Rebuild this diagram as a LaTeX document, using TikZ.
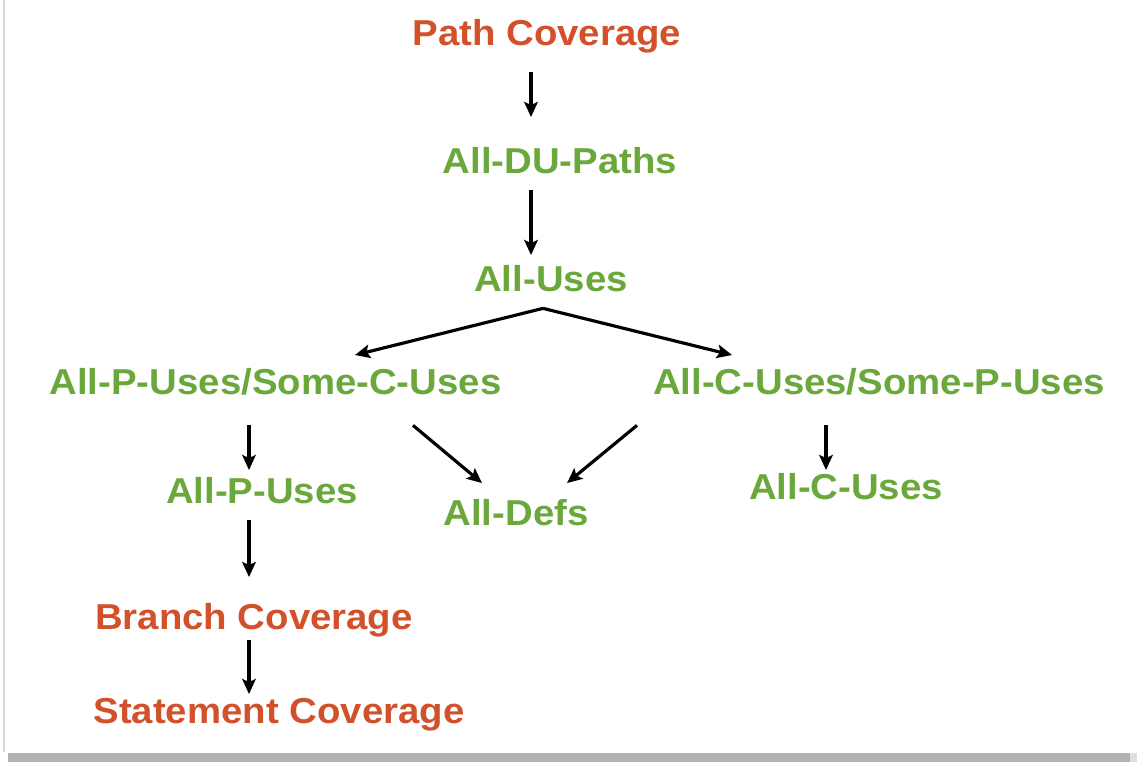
\documentclass[tikz,border=0pt]{standalone}
\usepackage{fontspec}
\setmainfont{Liberation Sans}
\usepackage{xcolor}
\usetikzlibrary{calc,arrows.meta}

\definecolor{covorange}{HTML}{D2502A}
\definecolor{usegreen}{HTML}{6AA83C}

\tikzset{
  crit/.style={inner sep=0pt, anchor=base, xscale=1.065,
    text height=14pt, text depth=4pt,
    font=\fontsize{20.5}{24}\selectfont\bfseries},
  covnode/.style={crit, text=covorange},
  usenode/.style={crit, text=usegreen},
  arr/.style={draw=black, line width=1.8pt,
    -{Stealth[length=3mm,width=2.7mm,inset=0.6mm]}}
}

\begin{document}
\begin{tikzpicture}[x=0.02cm,y=-0.02cm]
\useasboundingbox (0,0) rectangle (1137,763);
% frame and shadow
\draw [gray!30, line width=1pt] (4,0) -- (4,752);
\fill [gray!60] (8,753) rectangle (1130,762);
\fill [gray!25] (1130,753) rectangle (1137,762);

% criteria
\node[covnode] (pathcov) at (547,46) {Path Coverage};
\node[usenode] (dupaths) at (560,174) {All-DU-Paths};
\node[usenode] (uses) at (551,292) {All-Uses};
\node[usenode] (pcuses) at (275.5,395) {All-P-Uses/Some-C-Uses};
\node[usenode] (cpuses) at (879,395) {All-C-Uses/Some-P-Uses};
\node[usenode] (puses) at (262,504) {All-P-Uses};
\node[usenode] (defs) at (516,526) {All-Defs};
\node[usenode] (cuses) at (846,500) {All-C-Uses};
\node[covnode] (branch) at (254,630) {Branch Coverage};
\node[covnode] (stmt) at (279,724) {Statement Coverage};

% subsumption arrows
\draw[arr] ($(pathcov.south)+(-16,19)$) -- ($(dupaths.north)+(-29,-32)$);
\draw[arr] ($(dupaths.south)+(-29,9)$) -- ($(uses.north)+(-20,-12)$);
\draw[arr] ($(uses.south)+(-8,9)$) -- ($(pcuses.north)+(79.5,-15)$);
\draw[arr] ($(uses.south)+(-8,9)$) -- ($(cpuses.north)+(-147,-15)$);
\draw[arr] ($(pcuses.south)+(137.5,23)$) -- ($(defs.north)+(-34,-18)$);
\draw[arr] ($(cpuses.south)+(-242,23)$) -- ($(defs.north)+(51,-18)$);
\draw[arr] ($(pcuses.south)+(-26.5,23)$) -- ($(puses.north)+(-13,-9)$);
\draw[arr] ($(cpuses.south)+(-53,23)$) -- ($(cuses.north)+(-20,-5)$);
\draw[arr] ($(puses.south)+(-13,9)$) -- ($(branch.north)+(-5,-28)$);
\draw[arr] ($(branch.south)+(-5,3)$) -- ($(stmt.north)+(-30,-5)$);
\end{tikzpicture}
\end{document}
